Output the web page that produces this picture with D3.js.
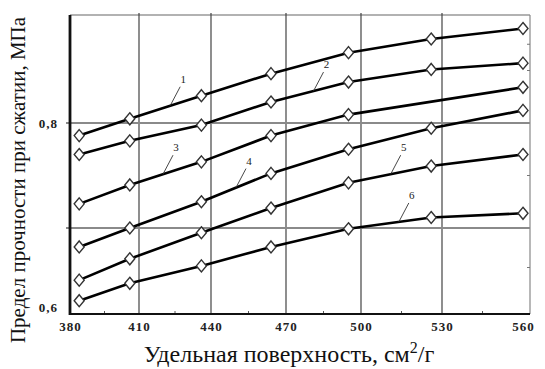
<!DOCTYPE html>
<html>
<head>
<meta charset="utf-8">
<script src="https://cdn.jsdelivr.net/npm/d3@7"></script>
<style>
  body { margin: 0; background: #fff; }
  svg { display: block; }
</style>
</head>
<body>
<div id="chart"></div>
<script>
'use strict';

// specific surface, cm2/g
var xValues = [384, 406, 436, 464, 495, 526, 560];
var xTicks = [380, 410, 440, 470, 500, 530, 560];
var yLabelTicks = [0.6, 0.8];
var yGridTicks = [0.7, 0.8];

// compressive strength, MPa (null = no point measured)
var series1 = [0.788, 0.804, 0.826, 0.847, 0.867, 0.880, 0.890];
var series2 = [0.770, 0.783, 0.798, 0.820, 0.839, 0.851, 0.857];
var series3 = [0.723, 0.741, 0.763, 0.788, 0.808, null, 0.834];
var series4 = [0.676, 0.700, 0.725, 0.752, 0.775, 0.795, 0.812];
var series5 = [0.634, 0.661, 0.694, 0.719, 0.743, 0.759, 0.770];
var series6 = [0.608, 0.630, 0.652, 0.676, 0.699, 0.710, 0.714];

var seriesNames = ['1', '2', '3', '4', '5', '6'];
var labelAt = [423, 481, 420, 450, 511, 514];

var allSeries = [series1, series2, series3, series4, series5, series6];

var width = 545, height = 369;
var plotLeft = 70, plotRight = 530, plotTop = 15, plotBottom = 314;
var serif = '"Liberation Serif", "Times New Roman", serif';

var svg = d3.select('#chart')
  .append('svg')
  .attr('width', width)
  .attr('height', height);

// the scan is slightly stretched, so scales are piecewise
var x = d3.scaleLinear()
  .domain(xTicks)
  .range([70, 139, 211, 286, 361, 442, 523]);

var y = d3.scaleLinear()
  .domain([0.6, 0.7, 0.8, 0.9])
  .range([307, 228, 123, 18]);

// frame top / right
svg.append('line')
  .attr('x1', plotLeft).attr('x2', plotRight).attr('y1', plotTop).attr('y2', plotTop)
  .attr('stroke', '#999').attr('stroke-width', 1.5);
svg.append('line')
  .attr('x1', plotRight).attr('x2', plotRight).attr('y1', plotTop).attr('y2', plotBottom)
  .attr('stroke', '#888').attr('stroke-width', 1.2);

// vertical grid
svg.append('g')
  .selectAll('line')
  .data(xTicks.slice(1, 6))
  .enter()
  .append('line')
  .attr('x1', function(d) { return x(d); })
  .attr('x2', function(d) { return x(d); })
  .attr('y1', plotTop - 2)
  .attr('y2', plotBottom)
  .attr('stroke', '#444')
  .attr('stroke-width', 1.2);

// horizontal grid
svg.append('g')
  .selectAll('line')
  .data(yGridTicks)
  .enter()
  .append('line')
  .attr('x1', plotLeft - 4)
  .attr('x2', plotRight)
  .attr('y1', function(d) { return y(d); })
  .attr('y2', function(d) { return y(d); })
  .attr('stroke', '#8a8a8a')
  .attr('stroke-width', 1.8);

// minor ticks
var minorX = d3.range(395, 560, 30);
svg.append('g')
  .selectAll('line')
  .data(minorX)
  .enter()
  .append('line')
  .attr('x1', function(d) { return x(d); })
  .attr('x2', function(d) { return x(d); })
  .attr('y1', plotBottom - 3)
  .attr('y2', plotBottom)
  .attr('stroke', '#555');

svg.append('g')
  .selectAll('line')
  .data([0.65, 0.75, 0.85, 0.875])
  .enter()
  .append('line')
  .attr('x1', plotRight - 3)
  .attr('x2', plotRight)
  .attr('y1', function(d) { return y(d); })
  .attr('y2', function(d) { return y(d); })
  .attr('stroke', '#777');

// axes lines
svg.append('line')
  .attr('x1', plotLeft).attr('x2', plotRight).attr('y1', plotBottom).attr('y2', plotBottom)
  .attr('stroke', '#111').attr('stroke-width', 2.2);
svg.append('line')
  .attr('x1', plotLeft).attr('x2', plotLeft).attr('y1', plotTop).attr('y2', plotBottom + 1)
  .attr('stroke', '#111').attr('stroke-width', 2.8);

// tick labels
var xAxis = d3.axisBottom(x)
  .tickValues(xTicks)
  .tickSize(0)
  .tickPadding(8)
  .tickFormat(d3.format('d'));

var gx = svg.append('g')
  .attr('transform', 'translate(0,' + plotBottom + ')')
  .call(xAxis)
  .attr('font-family', serif)
  .attr('font-size', 13);
gx.select('.domain').remove();
gx.selectAll('text')
  .attr('font-weight', 'bold')
  .attr('letter-spacing', 1)
  .attr('fill', '#222');

var yAxis = d3.axisLeft(y)
  .tickValues(yLabelTicks)
  .tickSize(0)
  .tickPadding(12)
  .tickFormat(function(d) { return d.toFixed(1).replace('.', ','); });

var gy = svg.append('g')
  .attr('transform', 'translate(' + plotLeft + ',0)')
  .call(yAxis)
  .attr('font-family', serif)
  .attr('font-size', 13);
gy.select('.domain').remove();
gy.selectAll('text')
  .attr('font-weight', 'bold')
  .attr('letter-spacing', 1)
  .attr('fill', '#222');

// curves
var line = d3.line()
  .x(function(d) { return x(d.x); })
  .y(function(d) { return y(d.y); });

var data = allSeries.map(function(vals) {
  return vals.map(function(v, i) { return { x: xValues[i], y: v }; })
    .filter(function(d) { return d.y !== null; });
});

svg.append('g')
  .selectAll('path')
  .data(data)
  .enter()
  .append('path')
  .attr('d', line)
  .attr('fill', 'none')
  .attr('stroke', '#000')
  .attr('stroke-width', 2.6);

// curve numbers with leader lines
function valueAt(pts, xv) {
  var i = d3.bisector(function(d) { return d.x; }).left(pts, xv);
  var a = pts[i - 1], b = pts[i];
  return a.y + (b.y - a.y) * (xv - a.x) / (b.x - a.x);
}

var labels = svg.append('g')
  .attr('font-family', serif);
data.forEach(function(pts, k) {
  var px = x(labelAt[k]);
  var py = y(valueAt(pts, labelAt[k]));
  labels.append('line')
    .attr('x1', px).attr('y1', py)
    .attr('x2', px + 10).attr('y2', py - 19)
    .attr('stroke', '#333')
    .attr('stroke-width', 0.9);
  labels.append('text')
    .attr('x', px + 13)
    .attr('y', py - 23)
    .attr('text-anchor', 'middle')
    .attr('font-size', 11)
    .attr('fill', '#222')
    .text(seriesNames[k]);
});

// diamond markers
var diamond = 'M0,-6L5,0L0,6L-5,0Z';
svg.append('g')
  .selectAll('g')
  .data(data)
  .enter()
  .append('g')
  .selectAll('path')
  .data(function(d) { return d; })
  .enter()
  .append('path')
  .attr('d', diamond)
  .attr('transform', function(d) { return 'translate(' + x(d.x) + ',' + y(d.y) + ')'; })
  .attr('fill', '#fff')
  .attr('stroke', '#333')
  .attr('stroke-width', 1.4);

// axis titles
var xt = svg.append('text')
  .attr('x', 289)
  .attr('y', 362)
  .attr('text-anchor', 'middle')
  .attr('font-family', serif)
  .attr('font-size', 24)
  .attr('fill', '#111');
xt.append('tspan').text('Удельная поверхность, см');
xt.append('tspan').attr('dy', -9).attr('font-size', 16).text('2');
xt.append('tspan').attr('dy', 9).text('/г');

svg.append('text')
  .attr('transform', 'translate(25,180) rotate(-90)')
  .attr('text-anchor', 'middle')
  .attr('font-family', serif)
  .attr('font-size', 21)
  .attr('fill', '#111')
  .text('Предел прочности при сжатии, МПа');
</script>
</body>
</html>
